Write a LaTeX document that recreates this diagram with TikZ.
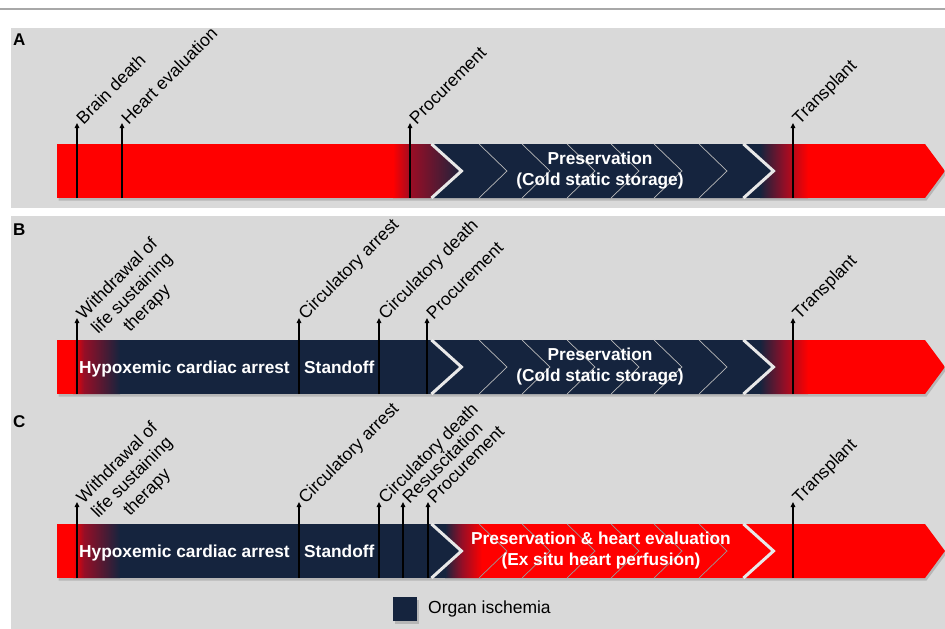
\documentclass[tikz,border=0pt]{standalone}
\usepackage{fontspec}
\setmainfont{Liberation Sans}
\usetikzlibrary{arrows.meta}
\definecolor{navy}{RGB}{21,36,62}
\definecolor{panelgray}{RGB}{217,217,217}
\definecolor{maroonc}{RGB}{150,14,38}
\definecolor{bred}{RGB}{255,0,0}
\definecolor{gapc}{RGB}{232,232,232}
\definecolor{topline}{RGB}{168,168,168}
\tikzset{
  evarrow/.style={line width=1.3pt, -{Triangle[length=5pt,width=4.5pt]}},
  lbl/.style={rotate=45, anchor=base west, inner sep=0pt, outer sep=0pt,
              font=\fontsize{17.5}{21}\selectfont},
  bartext/.style={text=white, inner sep=0pt, align=center,
              font=\fontsize{17.3}{21}\selectfont\bfseries},
  panelletter/.style={anchor=base west, inner sep=0pt,
              font=\fontsize{17}{20}\selectfont\bfseries},
  gapline/.style={draw=gapc, line width=3pt, line join=miter},
  chevline/.style={draw=gray!55!white, line width=0.7pt},
  barshadow/.style={fill=black, opacity=0.16},
}
% segment outlines: #1 top, #2 bottom, #3 middle
\newcommand\segone[3]{(57,#1) -- (430,#1) -- (460,#3) -- (430,#2) -- (57,#2) -- cycle}
\newcommand\segtwo[3]{(433,#1) -- (742,#1) -- (772,#3) -- (742,#2) -- (433,#2) -- (463,#3) -- cycle}
\newcommand\segthree[3]{(745,#1) -- (925,#1) -- (945,#3) -- (925,#2) -- (745,#2) -- (775,#3) -- cycle}
\newcommand\wholebar[3]{(57,#1) -- (925,#1) -- (945,#3) -- (925,#2) -- (57,#2) -- cycle}
% marker: name, x, bottom, tip, text
\newcommand\evmark[5]{%
  \coordinate (#1b) at (#2,#3);
  \coordinate (#1t) at (#2,#4);
  \draw[evarrow] (#1b) -- (#1t);
  \node[lbl] (#1l) at ([shift={(6.5pt,-2pt)}]#1t) {#5};}
% three-line withdrawal marker: name, x, bottom, tip
\newcommand\wdmark[4]{%
  \coordinate (#1b) at (#2,#3);
  \coordinate (#1t) at (#2,#4);
  \draw[evarrow] (#1b) -- (#1t);
  \node[lbl] (#1l) at ([shift={(6.5pt,-2pt)}]#1t) {Withdrawal of};
  \node[lbl, anchor=base] (#1m) at ([shift={(-45:21pt)}]#1l.base) {life sustaining};
  \node[lbl, anchor=base] (#1n) at ([shift={(-45:21pt)}]#1m.base) {therapy};}
\begin{document}
\begin{tikzpicture}[x=1pt,y=-1pt]
\useasboundingbox (0,0) rectangle (945,629);
\fill[white] (0,0) rectangle (945,629);
\draw[topline, line width=2pt] (0,8.5) -- (945,8.5);
% panels
\fill[panelgray] (11,28) rectangle (945,208);
\fill[panelgray] (11,216) rectangle (945,629);
\node[panelletter] (labA) at (13,45) {A};
\node[panelletter] (labB) at (13,235) {B};
\node[panelletter] (labC) at (13,427) {C};

% ================= Panel A =================
\begin{scope}[shift={(1.5,2.5)}]
  \fill[barshadow] \wholebar{144}{198}{171};
\end{scope}
\begin{scope}
  \clip \segone{144}{198}{171};
  \fill[bred] (57,144) rectangle (462,198);
  \shade[left color=bred, right color=maroonc] (393,144) rectangle (412,198);
  \shade[left color=maroonc, right color=navy] (412,144) rectangle (464,198);
\end{scope}
\fill[navy] \segtwo{144}{198}{171};
\begin{scope}
  \clip \segthree{144}{198}{171};
  \fill[bred] (745,144) rectangle (945,198);
  \fill[navy] (745,144) rectangle (760,198);
  \shade[left color=navy, right color=maroonc] (760,144) rectangle (785,198);
  \shade[left color=maroonc, right color=bred] (785,144) rectangle (808,198);
\end{scope}
\foreach \t in {479,522,567,611,654,699}
  \draw[chevline] (\t,144) -- ({\t+28},171) -- (\t,198);
\draw[gapline] (431.5,144) -- (461.5,171) -- (431.5,198);
\draw[gapline] (743.5,144) -- (773.5,171) -- (743.5,198);
\node[bartext] (presA) at (600,171) {Preservation\\(Cold static storage)};
\evmark{Abd}{77}{198}{123}{Brain death}
\evmark{Ahe}{122}{198}{123}{Heart evaluation}
\evmark{Apr}{410}{198}{123}{Procurement}
\evmark{Atr}{793}{198}{123}{Transplant}

% ================= Panel B =================
\begin{scope}[shift={(1.5,2.5)}]
  \fill[barshadow] \wholebar{340}{394}{367};
\end{scope}
\begin{scope}
  \clip \segone{340}{394}{367};
  \fill[navy] (57,340) rectangle (462,394);
  \fill[bred] (57,340) rectangle (73,394);
  \shade[left color=bred, right color=maroonc] (73,340) rectangle (84,394);
  \shade[left color=maroonc, right color=navy] (84,340) rectangle (120,394);
\end{scope}
\fill[navy] \segtwo{340}{394}{367};
\begin{scope}
  \clip \segthree{340}{394}{367};
  \fill[bred] (745,340) rectangle (945,394);
  \fill[navy] (745,340) rectangle (760,394);
  \shade[left color=navy, right color=maroonc] (760,340) rectangle (785,394);
  \shade[left color=maroonc, right color=bred] (785,340) rectangle (808,394);
\end{scope}
\foreach \t in {479,522,567,611,654,699}
  \draw[chevline] (\t,340) -- ({\t+28},367) -- (\t,394);
\draw[gapline] (431.5,340) -- (461.5,367) -- (431.5,394);
\draw[gapline] (743.5,340) -- (773.5,367) -- (743.5,394);
\node[bartext, anchor=base west] (hypB) at (79,373) {Hypoxemic cardiac arrest};
\node[bartext, anchor=base west] (stB) at (304,373) {Standoff};
\node[bartext] (presB) at (600,367) {Preservation\\(Cold static storage)};
\wdmark{Bwd}{77}{394}{318}
\evmark{Bca}{299}{394}{318}{Circulatory arrest}
\evmark{Bcd}{379}{394}{318}{Circulatory death}
\evmark{Bpr}{427}{394}{318}{Procurement}
\evmark{Btr}{793}{394}{318}{Transplant}

% ================= Panel C =================
\begin{scope}[shift={(1.5,2.5)}]
  \fill[barshadow] \wholebar{524}{578}{551};
\end{scope}
\begin{scope}
  \clip \segone{524}{578}{551};
  \fill[navy] (57,524) rectangle (462,578);
  \fill[bred] (57,524) rectangle (73,578);
  \shade[left color=bred, right color=maroonc] (73,524) rectangle (84,578);
  \shade[left color=maroonc, right color=navy] (84,524) rectangle (120,578);
\end{scope}
\begin{scope}
  \clip \segtwo{524}{578}{551};
  \fill[bred] (433,524) rectangle (772,578);
  \fill[navy] (433,524) rectangle (445,578);
  \shade[left color=navy, right color=maroonc] (445,524) rectangle (462,578);
  \shade[left color=maroonc, right color=bred] (462,524) rectangle (482,578);
\end{scope}
\fill[bred] \segthree{524}{578}{551};
\foreach \t in {479,522,567,611,654,699}
  \draw[chevline, draw=gray!80] (\t,524) -- ({\t+28},551) -- (\t,578);
\draw[gapline] (431.5,524) -- (461.5,551) -- (431.5,578);
\draw[gapline] (743.5,524) -- (773.5,551) -- (743.5,578);
\node[bartext, anchor=base west] (hypC) at (79,557) {Hypoxemic cardiac arrest};
\node[bartext, anchor=base west] (stC) at (304,557) {Standoff};
\node[bartext] (presC) at (601,551) {Preservation \& heart evaluation\\(Ex situ heart perfusion)};
\wdmark{Cwd}{77}{578}{502}
\evmark{Cca}{299}{578}{502}{Circulatory arrest}
\evmark{Ccd}{379}{578}{502}{Circulatory death}
\evmark{Crs}{403}{578}{502}{Resuscitation}
\evmark{Cpr}{428}{578}{502}{Procurement}
\evmark{Ctr}{793}{578}{502}{Transplant}

% ================= Legend =================
\fill[barshadow] (394.5,599.5) rectangle (418.5,623.5);
\node[fill=navy, minimum width=24pt, minimum height=24pt, inner sep=0pt] (legbox) at (405,609) {};
\node[anchor=west, inner sep=0pt, font=\fontsize{17.5}{20}\selectfont] (legtext) at (428,609) {Organ ischemia};
\end{tikzpicture}
\end{document}
